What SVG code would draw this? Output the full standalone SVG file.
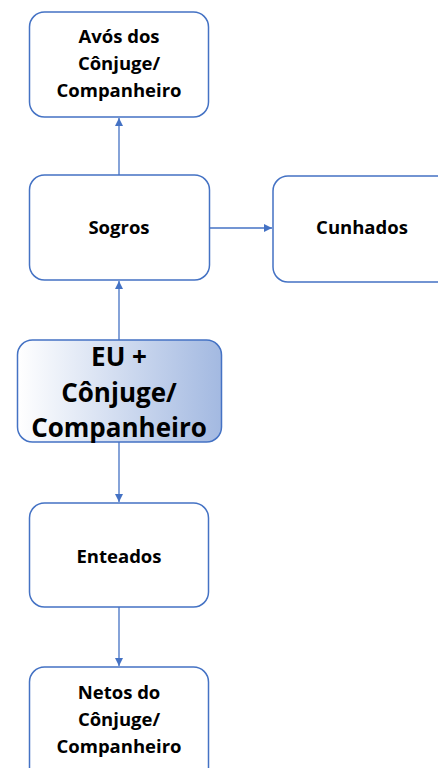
<svg xmlns="http://www.w3.org/2000/svg" width="438" height="768" viewBox="0 0 438 768">
<style>
.box{fill:#fff;stroke:#4472c4;stroke-width:1.5}
.t{font-family:"Open Sans",Lato,"Liberation Sans",sans-serif;font-weight:bold;font-size:18.5px;fill:#000;text-anchor:middle}
.tb{font-size:26px}
.c{stroke:#4472c4;stroke-width:1.3;fill:none;marker-end:url(#ah)}
</style>
<defs>
<marker id="ah" viewBox="0 0 10 10" refX="10" refY="5" markerWidth="8" markerHeight="8" markerUnits="userSpaceOnUse" orient="auto">
<path d="M0,0 L10,5 L0,10 z" fill="#4472c4"/>
</marker>
<linearGradient id="g" x1="0" y1="0" x2="1" y2="0">
<stop offset="0" stop-color="#ffffff"/>
<stop offset="1" stop-color="#a3b9e1"/>
</linearGradient>
</defs>
<g id="connectors">
<line class="c" x1="119" y1="175" x2="119" y2="118"/>
<line class="c" x1="210" y1="228" x2="272" y2="228"/>
<line class="c" x1="119" y1="340" x2="119" y2="281"/>
<line class="c" x1="119" y1="442" x2="119" y2="502"/>
<line class="c" x1="119" y1="607" x2="119" y2="666"/>
</g>
<g id="avos">
<rect class="box" x="29.5" y="12" width="179" height="105" rx="15"/>
<text class="t" x="119" y="43">Avós dos</text>
<text class="t" x="119" y="70">Cônjuge/</text>
<text class="t" x="119" y="97">Companheiro</text>
</g>
<g id="sogros">
<rect class="box" x="29.5" y="175" width="180" height="105" rx="15"/>
<text class="t" x="119" y="234">Sogros</text>
</g>
<g id="cunhados">
<rect class="box" x="273" y="176" width="180" height="106" rx="15"/>
<text class="t" x="362" y="234">Cunhados</text>
</g>
<g id="eu">
<rect x="17.5" y="340" width="204" height="102" rx="15" fill="url(#g)" stroke="#4472c4" stroke-width="1.5"/>
<text class="t tb" x="119" y="366">EU +</text>
<text class="t tb" x="119" y="401.5">Cônjuge/</text>
<text class="t tb" x="119" y="437">Companheiro</text>
</g>
<g id="enteados">
<rect class="box" x="29.5" y="503" width="179" height="104" rx="15"/>
<text class="t" x="119" y="563">Enteados</text>
</g>
<g id="netos">
<rect class="box" x="29.5" y="667" width="179" height="120" rx="15"/>
<text class="t" x="119" y="699">Netos do</text>
<text class="t" x="119" y="726">Cônjuge/</text>
<text class="t" x="119" y="753">Companheiro</text>
</g>
</svg>
